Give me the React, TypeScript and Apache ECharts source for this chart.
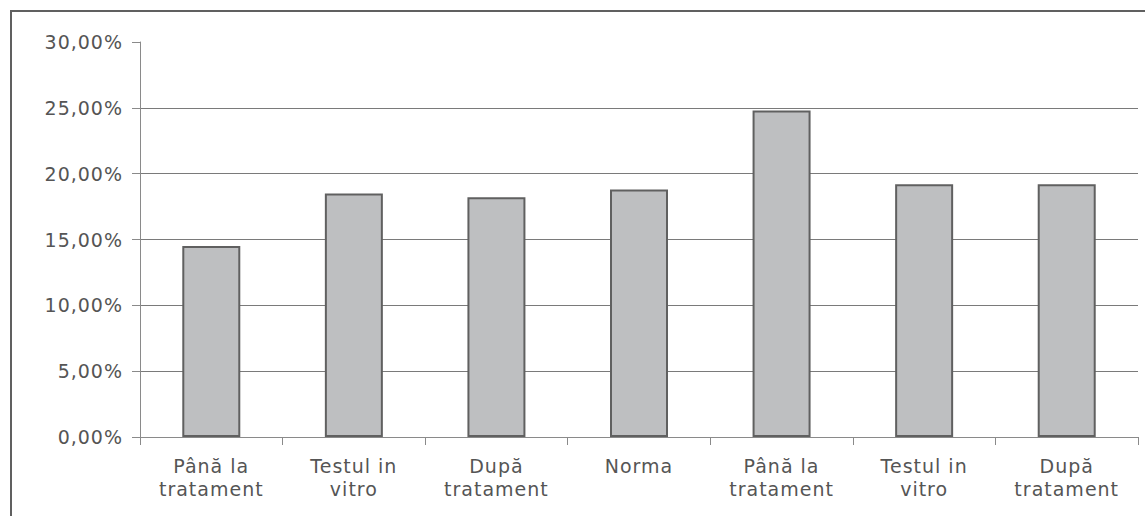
import React, { useEffect, useRef } from "react";
import * as echarts from "echarts";

const categories = [
  "Până la\ntratament",
  "Testul in\nvitro",
  "După\ntratament",
  "Norma",
  "Până la\ntratament",
  "Testul in\nvitro",
  "După\ntratament",
];
const values = [14.5, 18.5, 18.2, 18.8, 24.8, 19.2, 19.2];
const yTicks = [0, 5, 10, 15, 20, 25, 30];

const fmt = (v: number) => v.toFixed(2).replace(".", ",") + "%";

export default function App() {
  const ref = useRef<HTMLDivElement>(null);
  useEffect(() => {
    document.body.style.margin = "0";
    const chart = echarts.init(ref.current!, null, { renderer: "svg" });
    const font = "'DejaVu Sans', 'Liberation Sans', Arial, sans-serif";
    chart.setOption({
      animation: false,
      backgroundColor: "#ffffff",
      grid: { left: 140, right: 7, top: 42, bottom: 79, containLabel: false },
      graphic: [
        {
          type: "rect",
          shape: { x: 11, y: 11, width: 1300, height: 700 },
          style: { fill: "none", stroke: "#606060", lineWidth: 2 },
          silent: true,
        },
      ],
      xAxis: {
        type: "category",
        data: categories,
        axisLine: { lineStyle: { color: "#8a8a8a", width: 1 } },
        axisTick: { show: true, length: 8, lineStyle: { color: "#8a8a8a" } },
        axisLabel: {
          color: "#555555",
          fontFamily: font,
          fontSize: 19,
          lineHeight: 23,
          margin: 17,
          interval: 0,
        },
      },
      yAxis: {
        type: "value",
        min: yTicks[0],
        max: yTicks[yTicks.length - 1],
        interval: 5,
        axisLine: { show: true, lineStyle: { color: "#8a8a8a", width: 1 } },
        axisTick: { show: true, length: 8, lineStyle: { color: "#8a8a8a" } },
        axisLabel: {
          color: "#555555",
          fontFamily: font,
          fontSize: 19,
          margin: 17,
          formatter: (v: number) => fmt(v),
        },
        splitLine: {
          show: true,
          showMaxLine: false,
          showMinLine: false,
          lineStyle: { color: "#7a7a7a", width: 1 },
        },
      },
      series: [
        {
          type: "bar",
          data: values,
          barWidth: 58,
          itemStyle: { color: "#bebfc1", borderColor: "#606060", borderWidth: 2 },
        },
      ],
    });
    return () => chart.dispose();
  }, []);
  return (
    <>
      <style>{"#chart text { letter-spacing: 1px; }"}</style>
      <div id="chart" ref={ref} style={{ width: 1145, height: 516 }} />
    </>
  );
}
